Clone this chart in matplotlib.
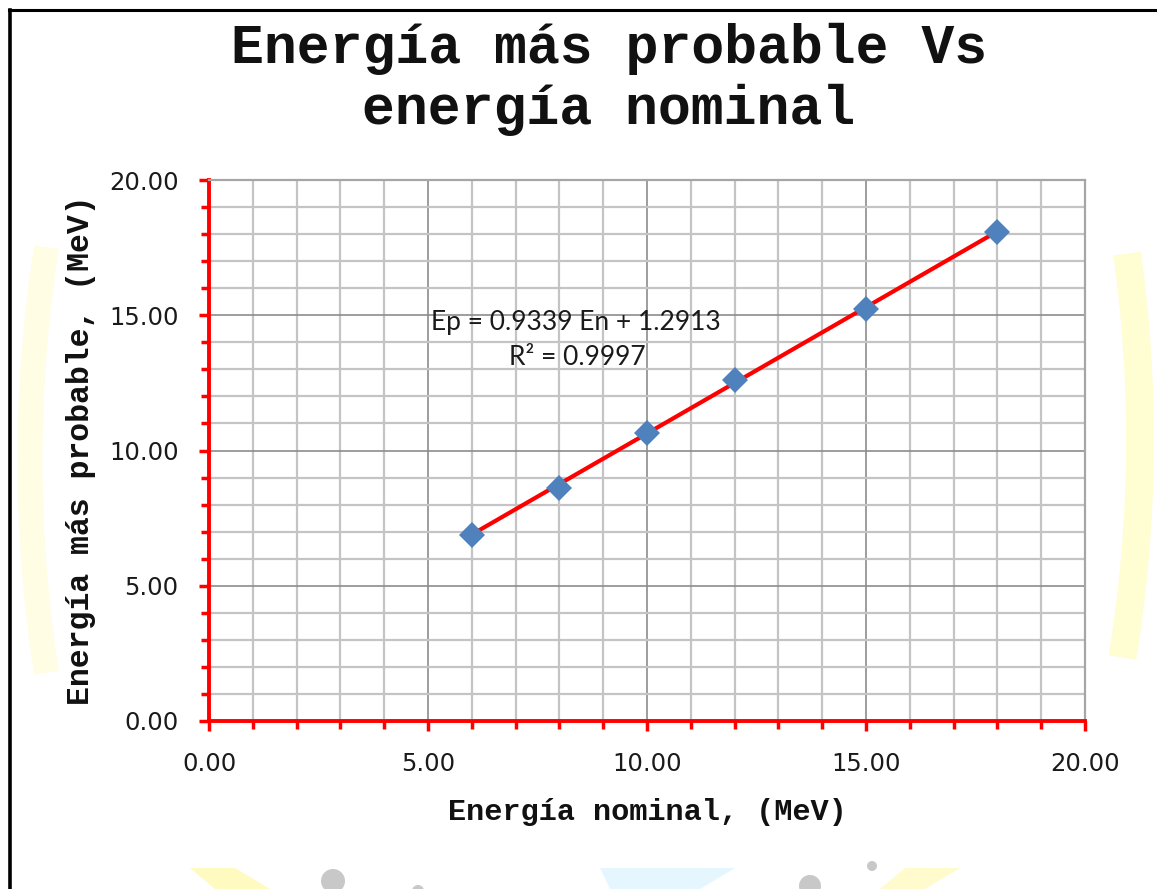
import matplotlib
matplotlib.use("Agg")
import matplotlib.pyplot as plt
from matplotlib.ticker import MultipleLocator, FormatStrFormatter
from matplotlib.patches import Arc, Circle, Polygon
from matplotlib.lines import Line2D

# Measured data
energia_nominal = [6, 8, 10, 12, 15, 18]
energia_probable = [6.88, 8.61, 10.65, 12.60, 15.23, 18.08]

# Linear trend reported for the series
pendiente = 0.9339
intercepto = 1.2913
r2 = 0.9997

titulo = "Energía más probable Vs\nenergía nominal"
xlabel = "Energía nominal, (MeV)"
ylabel = "Energía más probable, (MeV)"

W, H = 1157, 889
fig = plt.figure(figsize=(W / 100, H / 100), dpi=100)
fig.patch.set_facecolor("white")

# faint background logo shapes
bg = fig.add_axes([0, 0, 1, 1], zorder=0)
bg.set_xlim(0, W)
bg.set_ylim(H, 0)
bg.axis("off")
bg.add_patch(Arc((900, 460), 1740, 2200, theta1=166, theta2=194,
                 color="#FFFDE4", lw=18))
bg.add_patch(Arc((250, 440), 1780, 2200, theta1=-12, theta2=14,
                 color="#FFFDD2", lw=20))
bg.add_patch(Polygon([[190, 868], [235, 868], [270, 889], [215, 889]],
                     closed=True, color="#FFFAC0", lw=0))
bg.add_patch(Polygon([[600, 868], [735, 868], [700, 889], [610, 889]],
                     closed=True, color="#E6F6FF", lw=0))
bg.add_patch(Polygon([[905, 868], [960, 868], [925, 889], [880, 889]],
                     closed=True, color="#FFFBCC", lw=0))
for cx, cy, rr in [(333, 881, 12), (418, 891, 6), (810, 886, 11), (872, 866, 5)]:
    bg.add_patch(Circle((cx, cy), rr, color="#C8C8C8", lw=0))
# frame lines
bg.add_line(Line2D([10, 10], [10, H], color="black", lw=2.6))
bg.add_line(Line2D([9, W], [10, 10], color="black", lw=2.2))

ax = fig.add_axes([209 / W, 1 - 721 / H, (1085 - 209) / W, (721 - 180) / H], zorder=2)
ax.set_facecolor("white")
ax.set_xlim(0, 20)
ax.set_ylim(0, 20)

ax.xaxis.set_major_locator(MultipleLocator(5))
ax.xaxis.set_minor_locator(MultipleLocator(1))
ax.yaxis.set_major_locator(MultipleLocator(5))
ax.yaxis.set_minor_locator(MultipleLocator(1))
ax.xaxis.set_major_formatter(FormatStrFormatter("%.2f"))
ax.yaxis.set_major_formatter(FormatStrFormatter("%.2f"))

ax.grid(which="minor", color="#C4C4C4", lw=1.6, zorder=0)
ax.grid(which="major", color="#8C8C8C", lw=1.2, zorder=0)
ax.set_axisbelow(True)

for s in ["left", "bottom"]:
    ax.spines[s].set_color("#FF0000")
    ax.spines[s].set_linewidth(2.8)
for s in ["top", "right"]:
    ax.spines[s].set_color("#A6A6A6")
    ax.spines[s].set_linewidth(1.6)

tick_size = 17.5
ax.tick_params(which="major", direction="out", length=7, width=2.5, color="#FF0000",
               labelsize=tick_size, labelcolor="#1A1A1A")
ax.tick_params(which="minor", direction="out", length=5.5, width=2.5, color="#FF0000")
ax.tick_params(axis="x", which="major", pad=15)
ax.tick_params(axis="y", which="major", pad=15)
for lab in ax.get_xticklabels() + ax.get_yticklabels():
    lab.set_fontfamily("DejaVu Sans")

# trend line over the measured range
x0, x1 = min(energia_nominal), max(energia_nominal)
ax.plot([x0, x1], [pendiente * x0 + intercepto, pendiente * x1 + intercepto],
        color="#FF0000", lw=3, zorder=3, solid_capstyle="butt")
ax.plot(energia_nominal, energia_probable, linestyle="none", marker="D",
        markersize=13.5, color="#4F81BD", markeredgewidth=0, zorder=4)

ax.text(8.38, 14.75, f"Ep = {pendiente:.4f} En + {intercepto:.4f}",
        fontfamily="Lato", fontsize=19, color="#1A1A1A", ha="center", va="center", zorder=5)
ax.text(8.42, 13.42, f"R² = {r2:.4f}",
        fontfamily="Lato", fontsize=19, color="#1A1A1A", ha="center", va="center", zorder=5)

ax.set_xlabel(xlabel, fontfamily="Liberation Mono", fontweight="bold", fontsize=21.8,
              color="#111111", labelpad=16)
ax.set_ylabel(ylabel, fontfamily="Liberation Mono", fontweight="bold", fontsize=22.7,
              color="#111111", labelpad=9)

fig.text(609 / W, 1 - 79 / H, titulo, fontfamily="Liberation Mono", fontweight="bold",
         fontsize=39.5, ha="center", va="center", linespacing=1.22, color="#111111")

fig.savefig("out.png", dpi=100, facecolor="white")
